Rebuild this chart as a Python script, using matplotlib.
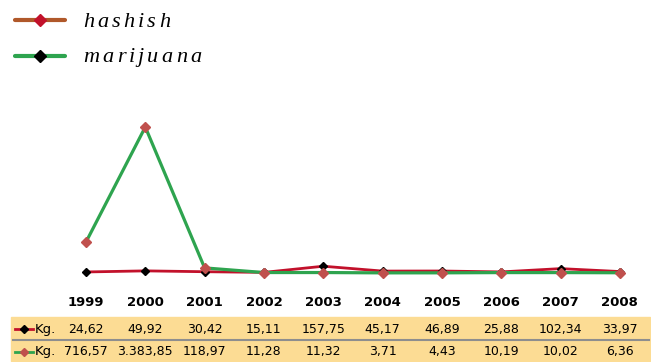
import numpy as np
import matplotlib.pyplot as plt
from matplotlib.lines import Line2D
from matplotlib.patches import Rectangle
import matplotlib.transforms as mtransforms

# seizures in kg per year
years = ["1999", "2000", "2001", "2002", "2003", "2004", "2005", "2006", "2007", "2008"]
hashish = [24.62, 49.92, 30.42, 15.11, 157.75, 45.17, 46.89, 25.88, 102.34, 33.97]
marijuana = [716.57, 3383.85, 118.97, 11.28, 11.32, 3.71, 4.43, 10.19, 10.02, 6.36]

RED = "#c2112b"
BROWN = "#b0582a"
GREEN = "#2ea44f"
SALMON = "#c0504d"
TABLE_BG = "#fcdc94"

W, H = 651, 362
fig = plt.figure(figsize=(W / 100, H / 100), dpi=100)


def px_box(left, top, right, bottom):
    return [left / W, 1 - bottom / H, (right - left) / W, (bottom - top) / H]


ax = fig.add_axes(px_box(56.3, 117.7, 649.6, 279.5))
x = np.arange(len(years))
ax.plot(x, hashish, color=RED, lw=2.0, marker="D", ms=4.5, mfc="black", mec="black", zorder=3)
ax.plot(x, marijuana, color=GREEN, lw=2.3, marker="D", ms=5, mfc=SALMON, mec=SALMON, zorder=4)
ax.set_xlim(-0.5, len(years) - 0.5)
ax.set_ylim(-150, 3600)
ax.set_xticks(x)
ax.set_xticklabels(years, fontsize=9.5, fontweight="bold", family="DejaVu Sans")
ax.tick_params(axis="x", length=0, pad=12)
ax.set_yticks([])
for s in ax.spines.values():
    s.set_visible(False)
ax.patch.set_visible(False)

# data table under the chart
fig.patches.append(Rectangle((11 / W, 1 - 361 / H), 639 / W, 44 / H,
                             transform=fig.transFigure, color=TABLE_BG, zorder=0))
fig.lines.append(Line2D([13 / W, 649 / W], [1 - 339.5 / H] * 2, transform=fig.transFigure,
                        color="#8e8e8e", lw=1.5))
blend = mtransforms.blended_transform_factory(ax.transData, fig.transFigure)


def fmt(v):
    s = f"{v:,.2f}"
    return s.replace(",", " ").replace(".", ",").replace(" ", ".")


rows = [(hashish, 329, RED, "black"), (marijuana, 351.5, GREEN, SALMON)]
for vals, ypx, lc, mc in rows:
    yf = 1 - ypx / H
    fig.lines.append(Line2D([15 / W, 33 / W], [yf, yf], transform=fig.transFigure,
                            color=lc, lw=2.0))
    fig.lines.append(Line2D([24 / W], [yf], transform=fig.transFigure, marker="D",
                            ms=4, mfc=mc, mec=mc, ls="none"))
    fig.text(35 / W, yf, "Kg.", fontsize=9.5, va="center", ha="left")
    for i, v in enumerate(vals):
        fig.text(i, yf, fmt(v), transform=blend, fontsize=9, va="center", ha="center")

# legend drawn by hand
renderer = fig.canvas.get_renderer()


def spaced_text(x0, ypx, label, spacing):
    xp = x0
    for ch in label:
        t = fig.text(xp / W, 1 - ypx / H, ch, fontsize=16, style="italic",
                     family="Liberation Serif", va="baseline", ha="left")
        xp += t.get_window_extent(renderer).width + spacing


legend = [("hashish", 20, BROWN, RED, 27), ("marijuana", 56, GREEN, "black", 62)]
for label, ypx, lc, mc, base in legend:
    yf = 1 - ypx / H
    fig.lines.append(Line2D([15 / W, 65 / W], [yf, yf], transform=fig.transFigure,
                            color=lc, lw=3, solid_capstyle="round"))
    fig.lines.append(Line2D([40 / W], [yf], transform=fig.transFigure, marker="D",
                            ms=6, mfc=mc, mec=mc, ls="none"))
    spaced_text(83, base, label, 3.2)

fig.savefig("out.png", dpi=100)
